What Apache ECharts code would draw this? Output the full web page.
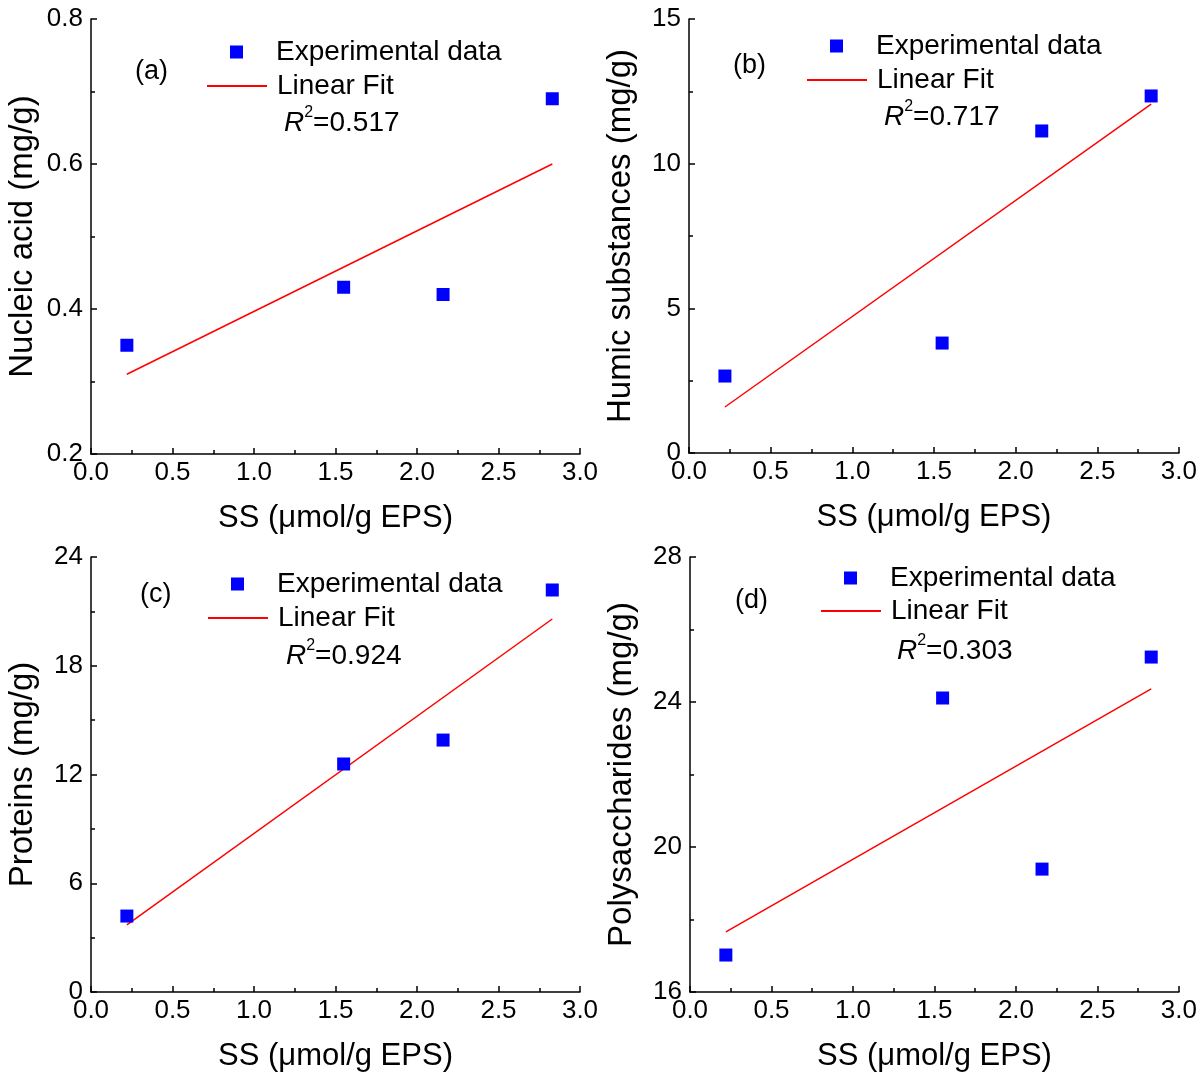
<!DOCTYPE html>
<html><head><meta charset="utf-8">
<script src="https://cdn.jsdelivr.net/npm/echarts@6/dist/echarts.min.js"></script>
<style>html,body{margin:0;padding:0;background:#fff}#c{width:1200px;height:1077px}</style>
</head><body><div id="c"></div>
<script>
// ---- data ----
const ssValues = [0.22, 1.55, 2.16, 2.83];
const nucleicAcid = [0.35, 0.43, 0.42, 0.69];
const humicSubstances = [2.66, 3.80, 11.13, 12.34];
const proteins = [4.19, 12.58, 13.90, 22.18];
const polysaccharides = [17.02, 24.11, 19.39, 25.24];
const fitX = [0.22, 2.83];
const fitNucleic = [0.31, 0.60];
const fitHumic = [1.59, 12.06];
const fitProteins = [3.70, 20.58];
const fitPoly = [17.66, 24.36];
const r2Values = ['0.517', '0.717', '0.924', '0.303'];
const panelLabels = ['(a)', '(b)', '(c)', '(d)'];
const yTitles = ['Nucleic acid (mg/g)', 'Humic substances (mg/g)', 'Proteins (mg/g)', 'Polysaccharides (mg/g)'];
const xTitle = 'SS (\u03bcmol/g EPS)';
const yMin = [0.2, 0, 0, 16];
const yMax = [0.8, 15, 24, 28];
const yStep = [0.2, 5, 6, 4];
const legendNames = ['Experimental data', 'Linear Fit'];

const FONT = "'Liberation Sans', Arial, sans-serif";
const ys = [nucleicAcid, humicSubstances, proteins, polysaccharides];
const fits = [fitNucleic, fitHumic, fitProteins, fitPoly];

// layout (pixels)
const grids = [
  {left: 91, top: 19, width: 489, height: 435},
  {left: 689, top: 19, width: 490, height: 434},
  {left: 91, top: 557, width: 489, height: 435},
  {left: 690, top: 557, width: 489, height: 435}
];
const legPos = [
  {sx: 230, sy: 52, lx: 206, ly: 86, rx: 284, ry: 122, px: 135, py: 73},
  {sx: 830, sy: 46, lx: 806, ly: 80, rx: 884, ry: 116, px: 733, py: 67},
  {sx: 231, sy: 584, lx: 207, ly: 618, rx: 286, ry: 655, px: 140, py: 596},
  {sx: 844, sy: 578, lx: 820, ly: 611, rx: 897, ry: 650, px: 735, py: 602}
];

const xAxes = [], yAxes = [], series = [], legends = [], graphics = [];
for (let i = 0; i < 4; i++) {
  xAxes.push({
    gridIndex: i, type: 'value', min: 0, max: 3, interval: 0.5,
    name: xTitle, nameLocation: 'middle', nameGap: 49,
    nameTextStyle: {fontFamily: FONT, fontSize: 31, color: '#000'},
    axisLine: {show: true, onZero: false, lineStyle: {color: '#000', width: 1.5}},
    axisTick: {show: true, inside: true, length: 6, lineStyle: {color: '#000', width: 1.5}},
    minorTick: {show: true, splitNumber: 2, length: 4, lineStyle: {color: '#000', width: 1.5}},
    splitLine: {show: false},
    axisLabel: {fontFamily: FONT, fontSize: 26, color: '#000', margin: 6,
      formatter: v => v.toFixed(1)}
  });
  yAxes.push({
    gridIndex: i, type: 'value', min: yMin[i], max: yMax[i], interval: yStep[i],
    name: yTitles[i], nameLocation: 'middle', nameGap: 52, nameRotate: 90,
    nameTextStyle: {fontFamily: FONT, fontSize: 33, color: '#000'},
    axisLine: {show: true, onZero: false, lineStyle: {color: '#000', width: 1.5}},
    axisTick: {show: true, inside: true, length: 6, lineStyle: {color: '#000', width: 1.5}},
    minorTick: {show: true, splitNumber: 2, length: 4, lineStyle: {color: '#000', width: 1.5}},
    splitLine: {show: false},
    axisLabel: {fontFamily: FONT, fontSize: 26, color: '#000', margin: 8,
      formatter: v => i === 0 ? v.toFixed(1) : String(Math.round(v))}
  });
  series.push({
    name: legendNames[0], type: 'scatter', xAxisIndex: i, yAxisIndex: i,
    symbol: 'rect', symbolSize: 13, itemStyle: {color: '#0000FF', opacity: 1},
    data: ssValues.map((x, k) => [x, ys[i][k]]), z: 3
  });
  series.push({
    name: legendNames[1], type: 'line', xAxisIndex: i, yAxisIndex: i,
    symbol: 'none', lineStyle: {color: '#FF0000', width: 1.5}, itemStyle: {color: '#FF0000'},
    data: fitX.map((x, k) => [x, fits[i][k]]), z: 2
  });
  const p = legPos[i];
  legends.push({
    data: [{name: legendNames[0], icon: 'rect'}],
    left: p.sx, top: p.sy - 14, itemWidth: 13, itemHeight: 13, padding: 0,
    selectedMode: false, textStyle: {fontFamily: FONT, fontSize: 28, color: '#000', padding: [0, 0, 0, 28]}
  });
  legends.push({
    data: [legendNames[1]],
    left: p.lx, top: p.ly - 14, itemWidth: 60, itemHeight: 14, padding: 0,
    itemStyle: {opacity: 0},
    selectedMode: false, textStyle: {fontFamily: FONT, fontSize: 28, color: '#000', padding: [0, 0, 0, 5]}
  });
  graphics.push({
    type: 'text', left: p.px, top: p.py - 15,
    style: {text: panelLabels[i], font: '27px ' + FONT, fill: '#000'}
  });
  graphics.push({
    type: 'text', left: p.rx, top: p.ry - 17,
    style: {
      text: '{i|R}{s|2}{n|=' + r2Values[i] + '}',
      rich: {
        i: {fontFamily: FONT, fontSize: 28, fontStyle: 'italic', fill: '#000', lineHeight: 32, verticalAlign: 'bottom'},
        s: {fontFamily: FONT, fontSize: 16, fill: '#000', lineHeight: 32, verticalAlign: 'top'},
        n: {fontFamily: FONT, fontSize: 28, fill: '#000', lineHeight: 32, verticalAlign: 'bottom'}
      }
    }
  });
}

const chart = echarts.init(document.getElementById('c'), null, {renderer: 'canvas'});
chart.setOption({
  animation: false,
  backgroundColor: '#fff',
  grid: grids.map(g => Object.assign({containLabel: false}, g)),
  xAxis: xAxes, yAxis: yAxes, series: series, legend: legends, graphic: graphics
});
</script></body></html>
